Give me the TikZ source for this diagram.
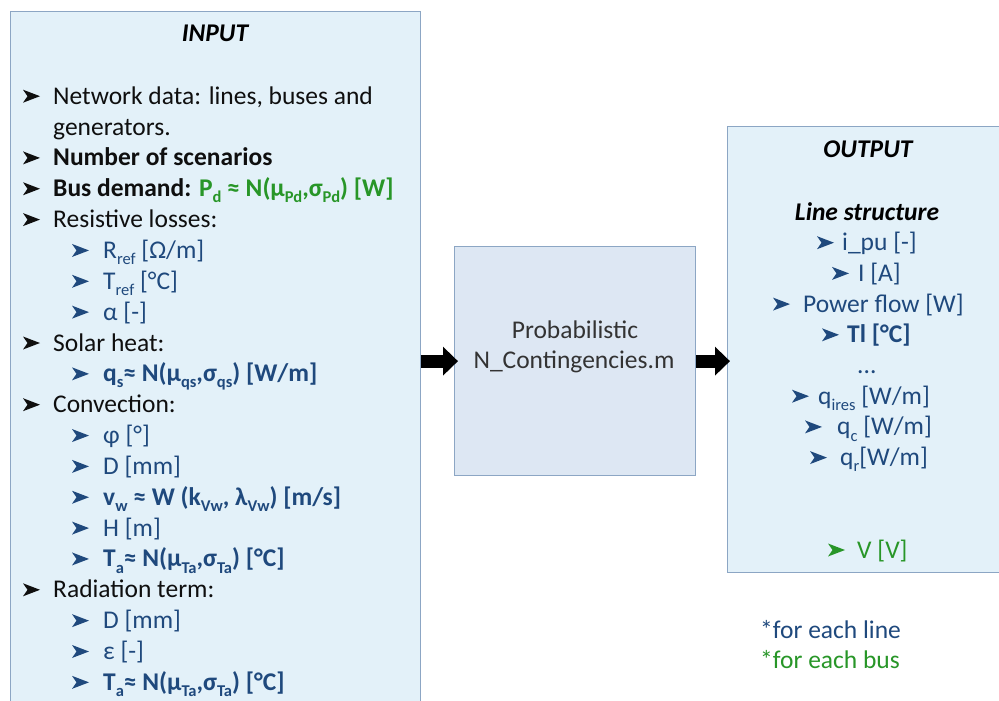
\documentclass[tikz,border=0pt]{standalone}
\usepackage{fontspec}
\setmainfont{Carlito}
\usetikzlibrary{arrows.meta}
\definecolor{tblue}{RGB}{31,73,125}
\definecolor{tgreen}{RGB}{40,150,40}
\definecolor{tblack}{RGB}{15,15,15}
\definecolor{inFill}{RGB}{227,241,249}
\definecolor{midFill}{RGB}{221,231,243}
\definecolor{boxLine}{RGB}{140,166,196}
\newcommand\sbs[1]{\raisebox{-0.24em}{\fontsize{16.5}{16.5}\selectfont #1}}
\newcommand\bul[3]{\fill[#3] ({#1},{#2-8}) ++(0,-6.5) -- ++(17,6.5) -- ++(-17,6.5) -- ++(4.5,-6.5) -- cycle;}
\begin{document}
\begin{tikzpicture}[x=1pt,y=-1pt,
  box/.style={draw=boxLine, line width=1.3pt, anchor=north west, inner sep=0pt},
  txt/.style={inner sep=0pt, anchor=base west, font=\fontsize{25.5}{30}\selectfont},
  ctxt/.style={txt, anchor=base},
  bigarrow/.style={line width=13pt, -{Triangle[length=15pt,width=28pt]}, black}]
\clip (0,0) rectangle (999,701);
\fill[white] (0,0) rectangle (999,701);
% boxes
\node[box, fill=inFill, minimum width=410pt, minimum height=710pt] (inbox) at (10,11) {};
\node[box, fill=midFill, minimum width=241pt, minimum height=229pt] (midbox) at (454,246) {};
\node[box, fill=inFill, minimum width=300pt, minimum height=446pt] (outbox) at (727,126) {};
% arrows
\draw[bigarrow, shorten >=-4pt] (inbox.east |- midbox.west) -- (midbox.west);
\draw[bigarrow, shorten >=-3pt] (midbox.east) -- (outbox.west |- midbox.east);
% INPUT
\node[ctxt, font=\fontsize{25.5}{30}\bfseries\itshape] (intitle) at (215,42) {INPUT};
\bul{23}{104.2}{tblack}
\node[txt, text=tblack] (i0) at (53,104.2) {Network data: lines, buses and};
\node[txt, text=tblack] (i1) at (53,{104.2+30.85*1}) {generators.};
\bul{23}{104.2+30.85*2}{tblack}
\node[txt, text=tblack, font=\fontsize{25.5}{30}\bfseries] (i2) at (53,{104.2+30.85*2}) {Number of scenarios};
\bul{23}{104.2+30.85*3}{tblack}
\node[txt, text=tblack, font=\fontsize{25.5}{30}\bfseries] (i3) at (53,{104.2+30.85*3}) {Bus demand: \textcolor{tgreen}{P\sbs{d} ≈ N(μ\sbs{Pd},σ\sbs{Pd}) [W]}};
\bul{23}{104.2+30.85*4}{tblack}
\node[txt, text=tblack] (i4) at (53,{104.2+30.85*4}) {Resistive losses:};
\bul{72}{104.2+30.85*5}{tblue}
\node[txt, text=tblue] (i5) at (103,{104.2+30.85*5}) {R\sbs{ref} [Ω/m]};
\bul{72}{104.2+30.85*6}{tblue}
\node[txt, text=tblue] (i6) at (103,{104.2+30.85*6}) {T\sbs{ref} [°C]};
\bul{72}{104.2+30.85*7}{tblue}
\node[txt, text=tblue] (i7) at (103,{104.2+30.85*7}) {α [-]};
\bul{23}{104.2+30.85*8}{tblack}
\node[txt, text=tblack] (i8) at (53,{104.2+30.85*8}) {Solar heat:};
\bul{72}{104.2+30.85*9}{tblue}
\node[txt, text=tblue, font=\fontsize{25.5}{30}\bfseries] (i9) at (103,{104.2+30.85*9}) {q\sbs{s}≈ N(μ\sbs{qs},σ\sbs{qs}) [W/m]};
\bul{23}{104.2+30.85*10}{tblack}
\node[txt, text=tblack] (i10) at (53,{104.2+30.85*10}) {Convection:};
\bul{72}{104.2+30.85*11}{tblue}
\node[txt, text=tblue] (i11) at (103,{104.2+30.85*11}) {φ [°]};
\bul{72}{104.2+30.85*12}{tblue}
\node[txt, text=tblue] (i12) at (103,{104.2+30.85*12}) {D [mm]};
\bul{72}{104.2+30.85*13}{tblue}
\node[txt, text=tblue, font=\fontsize{25.5}{30}\bfseries] (i13) at (103,{104.2+30.85*13}) {v\sbs{w} ≈ W (k\sbs{Vw}, λ\sbs{Vw}) [m/s]};
\bul{72}{104.2+30.85*14}{tblue}
\node[txt, text=tblue] (i14) at (103,{104.2+30.85*14}) {H [m]};
\bul{72}{104.2+30.85*15}{tblue}
\node[txt, text=tblue, font=\fontsize{25.5}{30}\bfseries] (i15) at (103,{104.2+30.85*15}) {T\sbs{a}≈ N(μ\sbs{Ta},σ\sbs{Ta}) [°C]};
\bul{23}{104.2+30.85*16}{tblack}
\node[txt, text=tblack] (i16) at (53,{104.2+30.85*16}) {Radiation term:};
\bul{72}{104.2+30.85*17}{tblue}
\node[txt, text=tblue] (i17) at (103,{104.2+30.85*17}) {D [mm]};
\bul{72}{104.2+30.85*18}{tblue}
\node[txt, text=tblue] (i18) at (103,{104.2+30.85*18}) {ε [-]};
\bul{72}{104.2+30.85*19}{tblue}
\node[txt, text=tblue, font=\fontsize{25.5}{30}\bfseries] (i19) at (103,{104.2+30.85*19}) {T\sbs{a}≈ N(μ\sbs{Ta},σ\sbs{Ta}) [°C]};
% middle
\node[ctxt, text=tblack!85] (p1) at (575,338) {Probabilistic};
\node[ctxt, text=tblack!85] (p2) at (574,368) {N\_Contingencies.m};
% OUTPUT
\node[ctxt, font=\fontsize{25.5}{30}\bfseries\itshape] (outtitle) at (868,157) {OUTPUT};
\node[ctxt, font=\fontsize{25.5}{30}\bfseries\itshape] (ls) at (867,220) {Line structure};
\bul{817}{250.7}{tblue}
\node[txt, text=tblue] (o1) at (842,250.7) {i\_pu [-]};
\bul{832}{281.4}{tblue}
\node[txt, text=tblue] (o2) at (858,281.4) {I [A]};
\bul{773}{312.1}{tblue}
\node[txt, text=tblue] (o3) at (803,312.1) {Power flow [W]};
\bul{822}{342.8}{tblue}
\node[txt, text=tblue, font=\fontsize{25.5}{30}\bfseries] (o4) at (847,342.8) {Tl [°C]};
\node[txt, text=tblue] (o5) at (857,373.5) {...};
\bul{792}{404.2}{tblue}
\node[txt, text=tblue] (o6) at (818,404.2) {q\sbs{ires} [W/m]};
\bul{805}{434.9}{tblue}
\node[txt, text=tblue] (o7) at (837,434.9) {q\sbs{c} [W/m]};
\bul{810}{465.6}{tblue}
\node[txt, text=tblue] (o8) at (840,465.6) {q\sbs{r}[W/m]};
\bul{828}{558}{tgreen}
\node[txt, text=tgreen] (o9) at (857,558) {V [V]};
\node[txt, text=tblue] (n1) at (760,638) {*for each line};
\node[txt, text=tgreen] (n2) at (760,668) {*for each bus};
\end{tikzpicture}
\end{document}
